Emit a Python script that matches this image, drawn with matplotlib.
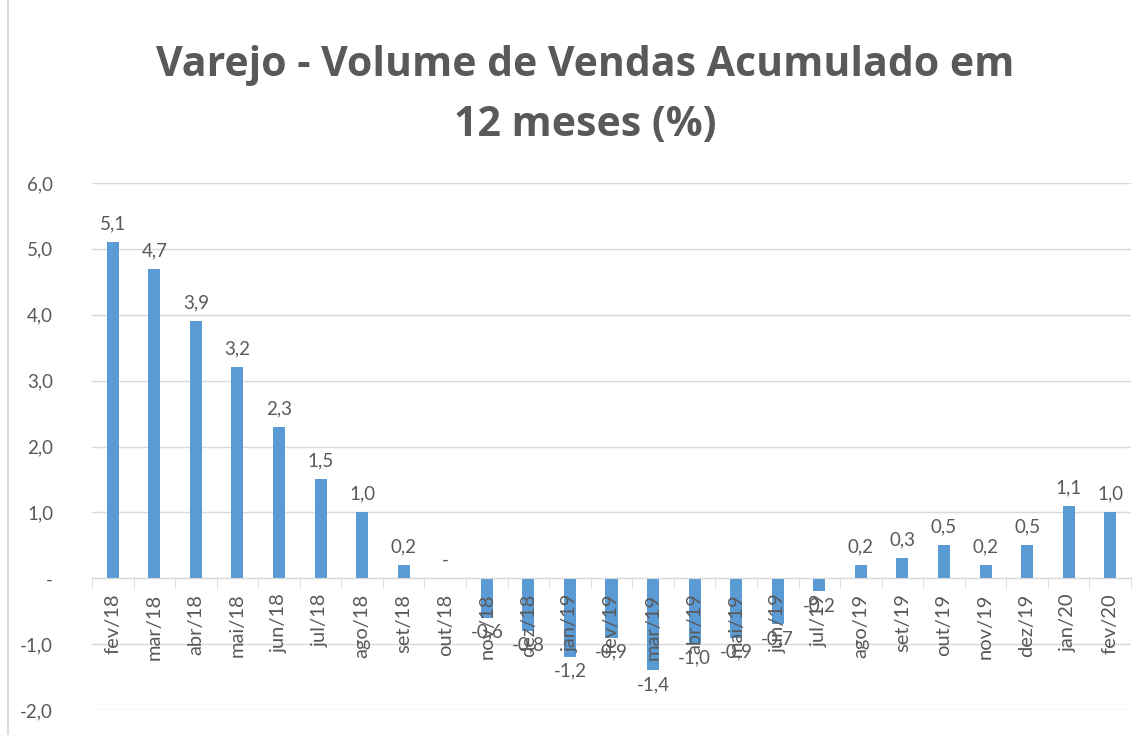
import numpy as np
import matplotlib.pyplot as plt
from matplotlib.patches import Rectangle

meses = ['fev/18', 'mar/18', 'abr/18', 'mai/18', 'jun/18', 'jul/18', 'ago/18', 'set/18',
         'out/18', 'nov/18', 'dez/18', 'jan/19', 'fev/19', 'mar/19', 'abr/19', 'mai/19',
         'jun/19', 'jul/19', 'ago/19', 'set/19', 'out/19', 'nov/19', 'dez/19', 'jan/20', 'fev/20']
valores = [5.1, 4.7, 3.9, 3.2, 2.3, 1.5, 1.0, 0.2, 0.0, -0.6, -0.8, -1.2, -0.9, -1.4,
           -1.0, -0.9, -0.7, -0.2, 0.2, 0.3, 0.5, 0.2, 0.5, 1.1, 1.0]
y_ticks = [-2, -1, 0, 1, 2, 3, 4, 5, 6]

plt.rcParams['font.family'] = ['Lato', 'DejaVu Sans']
cinza = '#595959'


def fmt(v):
    # formato contabil do Excel: zero vira "-"
    if abs(v) < 1e-9:
        return '-'
    return f'{v:.1f}'.replace('.', ',')


fig = plt.figure(figsize=(11.45, 7.35), dpi=100)
fig.patches.append(Rectangle((0.007, -0.01), 1.0, 1.02, transform=fig.transFigure,
                             fill=False, edgecolor='#d9d9d9', linewidth=1.5))
ax = fig.add_axes([92 / 1145, 25 / 735, (1131 - 92) / 1145, (710 - 183) / 735])

x = np.arange(len(meses))
ax.bar(x, valores, width=0.29, color='#5b9bd5', zorder=3)
ax.set_xlim(-0.5, len(meses) - 0.5)
ax.set_ylim(-2, 6)

ax.set_yticks(y_ticks)
ax.set_yticklabels([fmt(v) for v in y_ticks], color=cinza, fontsize=13.5)
ax.tick_params(axis='y', length=0, pad=28)
ax.grid(axis='y', color='#d9d9d9', linewidth=1, zorder=0)

for s in ['top', 'right', 'left']:
    ax.spines[s].set_visible(False)
ax.spines['bottom'].set_position(('data', 0))
ax.spines['bottom'].set_color('#d9d9d9')
ax.spines['bottom'].set_zorder(4)

# rotulos do eixo x desenhados por cima das barras, como no Excel
ax.set_xticks(x)
ax.set_xticklabels([])
ax.set_xticks(np.arange(-0.5, len(meses), 1), minor=True)
ax.tick_params(axis='x', which='major', length=0)
ax.tick_params(axis='x', which='minor', length=7, color='#d9d9d9')
for xi, m in zip(x, meses):
    ax.annotate(m, (xi, 0), xytext=(0, -11), textcoords='offset points',
                rotation=90, ha='center', va='top', color=cinza, fontsize=14.5,
                zorder=6)

for xi, v in zip(x, valores):
    if v >= 0:
        ax.annotate(fmt(v), (xi, v), xytext=(0, 7), textcoords='offset points',
                    ha='center', va='bottom', color=cinza, fontsize=13.5, zorder=6)
    else:
        ax.annotate(fmt(v), (xi, v), xytext=(0, -4), textcoords='offset points',
                    ha='center', va='top', color=cinza, fontsize=13.5, zorder=6)

fig.text(0.511, 0.870, 'Varejo - Volume de Vendas Acumulado em\n12 meses (%)',
         ha='center', va='center', fontsize=29.5, fontweight='bold', color=cinza,
         family='Open Sans', linespacing=1.6)

fig.savefig('out.png', dpi=100)
